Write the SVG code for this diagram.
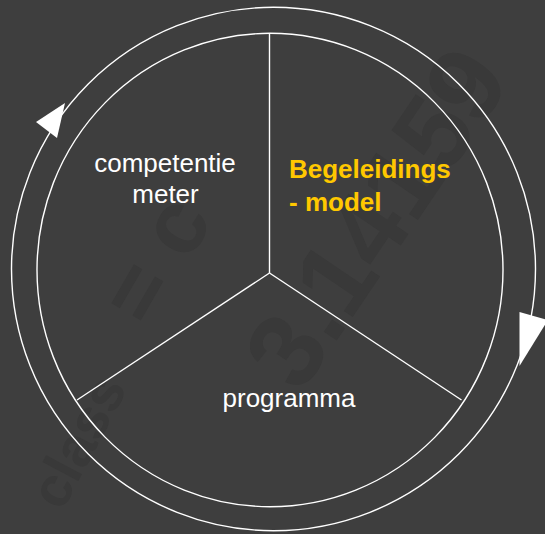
<svg xmlns="http://www.w3.org/2000/svg" width="545" height="534" viewBox="0 0 545 534">
  <style>
    .ring { fill: none; stroke: #ffffff; stroke-width: 1.4; }
    .spoke { stroke: #ffffff; stroke-width: 1.4; fill: none; }
    .arrow { fill: #ffffff; stroke: none; }
    .lbl { font-family: "Liberation Sans", Arial, sans-serif; font-size: 26px; fill: #ffffff; }
    .hl { font-family: "Liberation Sans", Arial, sans-serif; font-size: 26px; font-weight: bold; fill: #ffc800; }
    .bg-glyph { font-family: "Liberation Sans", Arial, sans-serif; font-weight: bold; fill: #393939; }
  </style>
  <rect x="0" y="0" width="545" height="534" fill="#3e3e3e"/>
  <g id="background">
    <text class="bg-glyph" font-size="105" transform="translate(300,395) rotate(-56)">3.14159</text>
    <text class="bg-glyph" font-size="56" transform="translate(62,512) rotate(-62)">class</text>
    <text class="bg-glyph" font-size="90" transform="translate(150,330) rotate(-60)">= c</text>
  </g>
  <g id="rings">
    <ellipse class="ring" cx="273.5" cy="269" rx="262" ry="261.7"/>
    <ellipse class="ring" cx="270" cy="270" rx="233" ry="236.7"/>
  </g>
  <g id="connectors">
    <line class="spoke" x1="269.5" y1="33.5" x2="269.5" y2="273"/>
    <line class="spoke" x1="269.5" y1="273" x2="77" y2="400"/>
    <line class="spoke" x1="269.5" y1="273" x2="461.5" y2="400"/>
    <polygon class="arrow" points="36,122 65,103 57,138"/>
    <polygon class="arrow" points="519.5,312 548,320 519.5,366"/>
  </g>
  <g id="node-competentiemeter">
    <text class="lbl" x="165" y="171.5" text-anchor="middle">competentie</text>
    <text class="lbl" x="165.5" y="203" text-anchor="middle">meter</text>
  </g>
  <g id="node-begeleidingsmodel">
    <text class="hl" x="289" y="178">Begeleidings</text>
    <text class="hl" x="289" y="211">- model</text>
  </g>
  <g id="node-programma">
    <text class="lbl" x="289" y="407" text-anchor="middle">programma</text>
  </g>
</svg>
